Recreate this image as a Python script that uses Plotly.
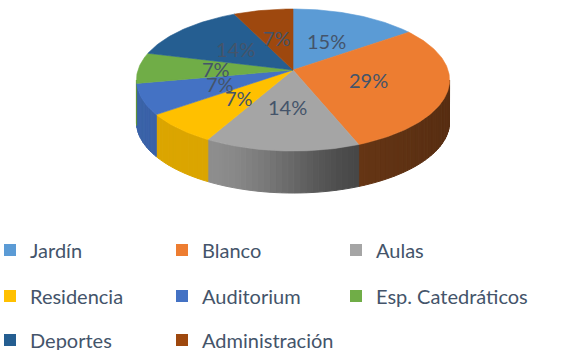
import numpy as np
import plotly.graph_objects as go

# Share of each area (percent)
categories = ["Jardín", "Blanco", "Aulas", "Residencia", "Auditorium",
              "Esp. Catedráticos", "Deportes", "Administración"]
shares = [15, 29, 14, 7, 7, 7, 14, 7]
colors = ["#5B9BD5", "#ED7D31", "#A5A5A5", "#FFC000", "#4472C4",
          "#70AD47", "#255E91", "#9E480E"]

W, H = 587, 350

# 3D pie geometry (pixel space of the plot area)
CX, CY = 293.0, 70.0      # apex of the top face
RX, RY = 155.0, 69.6      # radii of the top ellipse
P = 0.141                 # perspective strength
DEPTH = 42.0              # thickness of the pie wall
TEXT = "#44546A"


def proj(theta_deg, frac=1.0, drop=0.0):
    t = np.radians(theta_deg)
    c, s = np.cos(t), np.sin(t)
    d = 1.0 + P * frac * c
    return CX + frac * RX * s / d, CY - frac * RY * c / d + drop


def shade(hex_color, k):
    h = hex_color.lstrip("#")
    r, g, b = (int(h[i:i + 2], 16) for i in (0, 2, 4))
    return "rgb({},{},{})".format(int(r * k), int(g * k), int(b * k))


def wall_factor(x):
    # darker towards the right side of the wall
    t = np.clip((x - 205.0) / (375.0 - 205.0), 0, 1)
    t = t * t * (3 - 2 * t)
    f = 0.86 - 0.44 * t
    if x > 375:
        f -= 0.05 * min((x - 375) / 75.0, 1.0)
    return f


bounds = np.concatenate([[0], np.cumsum(shares)]) * 3.6
vis_lo = np.degrees(np.arccos(-P))
vis_hi = 360.0 - vis_lo

fig = go.Figure()

# Side walls (front half only), drawn as thin strips for smooth shading
for i, col in enumerate(colors):
    a, b = max(bounds[i], vis_lo), min(bounds[i + 1], vis_hi)
    if b <= a:
        continue
    n = max(int(np.ceil((b - a) / 2.0)), 1)
    edges = np.linspace(a, b, n + 1)
    for t0, t1 in zip(edges[:-1], edges[1:]):
        ts = np.linspace(t0, t1, 4)
        xt, yt = proj(ts)
        xb, yb = proj(ts[::-1], drop=DEPTH)
        xs = np.concatenate([xt, xb, xt[:1]])
        ys = np.concatenate([yt, yb, yt[:1]])
        fcol = shade(col, wall_factor(float(np.mean(xt))))
        fig.add_trace(go.Scatter(
            x=xs, y=ys, mode="lines", fill="toself", fillcolor=fcol,
            line=dict(color=fcol, width=1), hoverinfo="skip",
            showlegend=False))

# Top faces
for i, col in enumerate(colors):
    ts = np.linspace(bounds[i], bounds[i + 1],
                     max(int(bounds[i + 1] - bounds[i]), 2) + 1)
    xa, ya = proj(ts)
    xs = np.concatenate([[CX], xa, [CX]])
    ys = np.concatenate([[CY], ya, [CY]])
    fig.add_trace(go.Scatter(
        x=xs, y=ys, mode="lines", fill="toself", fillcolor=col,
        line=dict(color=col, width=0.6), hoverinfo="text",
        text=f"{categories[i]}: {shares[i]}%", showlegend=False))

# Percentage labels
for i, v in enumerate(shares):
    mid = (bounds[i] + bounds[i + 1]) / 2
    lx, ly = proj(mid, frac=0.5)
    fig.add_annotation(x=lx, y=ly, text=f"{v}%", showarrow=False,
                       font=dict(family="Lato", size=20, color=TEXT),
                       xanchor="center", yanchor="middle")

# Legend: one small legend per entry, laid out in a 3-column grid
col_x = [-10, 162, 336]
row_y = [250, 296, 340]
layout_legends = {}
for i, (cat, col) in enumerate(zip(categories, colors)):
    name = "legend" if i == 0 else f"legend{i + 1}"
    fig.add_trace(go.Scatter(
        x=[None], y=[None], mode="markers", name=cat,
        marker=dict(symbol="square", size=12, color=col),
        legend=name))
    layout_legends[name] = dict(
        x=col_x[i % 3] / W, xanchor="left",
        y=1 - row_y[i // 3] / H, yanchor="middle",
        font=dict(family="Lato", size=20, color=TEXT),
        bgcolor="rgba(0,0,0,0)", itemclick=False, itemdoubleclick=False)

fig.update_layout(
    width=W, height=H,
    margin=dict(l=0, r=0, t=0, b=0, autoexpand=False),
    paper_bgcolor="white", plot_bgcolor="white",
    xaxis=dict(range=[0, W], visible=False, fixedrange=True),
    yaxis=dict(range=[H, 0], visible=False, fixedrange=True),
    **layout_legends,
)

fig.write_html("out.html")
